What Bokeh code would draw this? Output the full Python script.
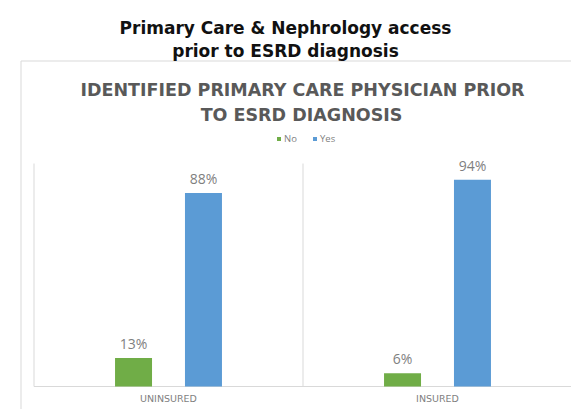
from bokeh.plotting import figure
from bokeh.models import ColumnDataSource, Range1d, Label, LabelSet, Legend, LegendItem
from bokeh.core.properties import value
from bokeh.embed import file_html
from bokeh.resources import INLINE

# ---- data ----
categories = ["UNINSURED", "INSURED"]
series = ["No", "Yes"]
no_values = [13, 6]
yes_values = [88, 94]
header_lines = ["Primary Care & Nephrology access", "prior to ESRD diagnosis"]
chart_title_lines = ["IDENTIFIED PRIMARY CARE PHYSICIAN PRIOR", "TO ESRD DIAGNOSIS"]

# ---- layout (page pixel geometry) ----
W, H = 571, 409
PAGE_X0, PAGE_Y0 = 0, 0
CAT_LEFT_PX = 33.5      # page x of left edge of first category
CAT_W_PX = 269.0        # pixels per category
BASE_PX = 386.0         # page y of value 0
PX_PER_UNIT = 2.2       # pixels per percent
PLOT_TOP_PX = 163.0

def dx(px):
    return -0.5 + (px - CAT_LEFT_PX) / CAT_W_PX

def dy(py):
    return (BASE_PX - py) / PX_PER_UNIT

GREEN = "#70ad47"
BLUE = "#5b9bd5"
GRID = "#d9d9d9"
DARK_GRAY = "#595959"
MID_GRAY = "#7f7f7f"

p = figure(width=W, height=H, output_backend="svg", toolbar_location=None,
           title=None, x_axis_location=None, y_axis_location=None,
           x_range=Range1d(dx(PAGE_X0), dx(PAGE_X0 + W)),
           y_range=Range1d(dy(PAGE_Y0 + H), dy(PAGE_Y0)),
           min_border=0, min_border_left=0, min_border_right=0,
           min_border_top=0, min_border_bottom=0)
p.outline_line_color = None
p.xgrid.visible = False
p.ygrid.visible = False
p.background_fill_color = "white"
p.border_fill_color = "white"

# chart box border (top + left)
p.segment(x0=[dx(20.5), dx(20.5)], y0=[dy(60.5), dy(60.5)],
          x1=[dx(20.5), dx(PAGE_X0 + W)], y1=[dy(PAGE_Y0 + H), dy(60.5)],
          line_color=GRID, line_width=1)

# plot-area lines: category boundaries and baseline
idx = list(range(len(categories)))
bounds = [i - 0.5 for i in idx] + [idx[-1] + 0.5]
p.segment(x0=bounds, y0=[0] * len(bounds), x1=bounds, y1=[dy(PLOT_TOP_PX)] * len(bounds),
          line_color=GRID, line_width=1)
p.segment(x0=[bounds[0]], y0=[0], x1=[bounds[-1]], y1=[0], line_color=GRID, line_width=1)

# bars
OFF = 0.13
BW = 0.1375
src = ColumnDataSource(dict(
    x_no=[i - OFF for i in idx], x_yes=[i + OFF for i in idx],
    no=no_values, yes=yes_values,
    no_lbl=[f"{v}%" for v in no_values], yes_lbl=[f"{v}%" for v in yes_values],
))
r_no = p.vbar(x="x_no", top="no", bottom=0, width=BW, source=src, fill_color=GREEN, line_color=None)
r_yes = p.vbar(x="x_yes", top="yes", bottom=0, width=BW, source=src, fill_color=BLUE, line_color=None)

for xf, yf, lf in (("x_no", "no", "no_lbl"), ("x_yes", "yes", "yes_lbl")):
    p.add_layout(LabelSet(x=xf, y=yf, text=lf, source=src, y_offset=9,
                          text_align="center", text_baseline="alphabetic",
                          text_font=value("Open Sans"), text_font_size="14px",
                          text_color=MID_GRAY))

# category labels
cat_src = ColumnDataSource(dict(x=idx, y=[dy(401)] * len(idx), t=categories))
p.add_layout(LabelSet(x="x", y="y", text="t", source=cat_src, text_align="center",
                      text_baseline="alphabetic", text_font=value("DejaVu Sans"),
                      text_font_size="9.5px", text_color=MID_GRAY))

# header (slide title)
for line, base in zip(header_lines, (27, 50)):
    p.add_layout(Label(x=dx(285), y=dy(base), text=line, text_align="center",
                       text_baseline="alphabetic", text_font="DejaVu Sans",
                       text_font_style="bold", text_font_size="17px", text_color="#111111"))

# chart title
for line, cx, base in zip(chart_title_lines, (302, 301), (89.5, 114)):
    p.add_layout(Label(x=dx(cx), y=dy(base), text=line, text_align="center",
                       text_baseline="alphabetic", text_font="DejaVu Sans",
                       text_font_style="bold", text_font_size="17.5px",
                       text_color=DARK_GRAY))

# legend
legend = Legend(items=[LegendItem(label=series[0], renderers=[r_no]),
                       LegendItem(label=series[1], renderers=[r_yes])],
                orientation="horizontal", location=(276, 264),
                glyph_width=5, glyph_height=5, label_height=10, label_standoff=3,
                spacing=8, padding=0, margin=0,
                label_text_font="Open Sans", label_text_font_size="9.5px",
                label_text_color=MID_GRAY, border_line_color=None,
                background_fill_alpha=0)
p.add_layout(legend)

open("out.html", "w").write(file_html(p, INLINE))
